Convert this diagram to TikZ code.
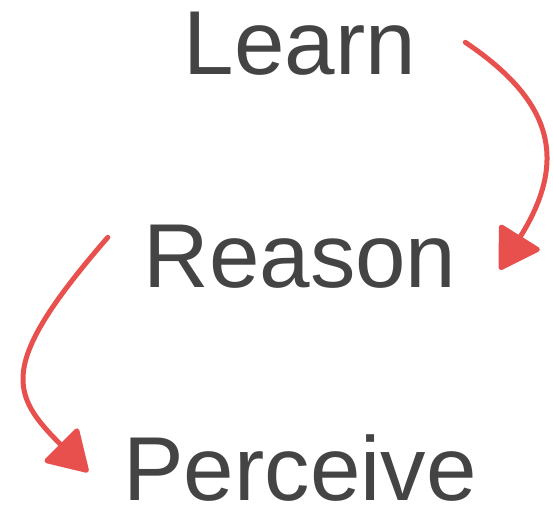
\documentclass[tikz,border=0pt]{standalone}
\usepackage{fontspec}
\setmainfont{Liberation Sans}
\usepackage{xcolor}
\usetikzlibrary{arrows.meta,positioning,calc}

\definecolor{wordgray}{HTML}{444444}
\definecolor{sketchred}{RGB}{232,80,78}

\begin{document}
\begin{tikzpicture}[
  x=1pt, y=1pt,
  word/.style={inner sep=0pt, anchor=base, text=wordgray, font=\fontsize{90.8pt}{100pt}\selectfont},
  arr/.style={draw=sketchred, line width=5pt, line cap=round, -{Triangle[length=42pt,width=50pt,round]}}
]
\useasboundingbox (0,0) rectangle (553,508);
\node[word] (learn) at (300,433) {Learn};
\node[word] (reason) at (300,220) {Reason};
\node[word] (perceive) at (300,8) {Perceive};
\draw[arr] ([shift={(49,-30)}]learn.north east) to[out=-34, in=58, out distance=105, in distance=130] ([shift={(43,-12.5)}]reason.east);
\draw[arr] ([shift={(-35.5,-12)}]reason.north west) to[out=229, in=135, out distance=170, in distance=110] ([shift={(-35,-4.5)}]perceive.west);
\end{tikzpicture}
\end{document}
